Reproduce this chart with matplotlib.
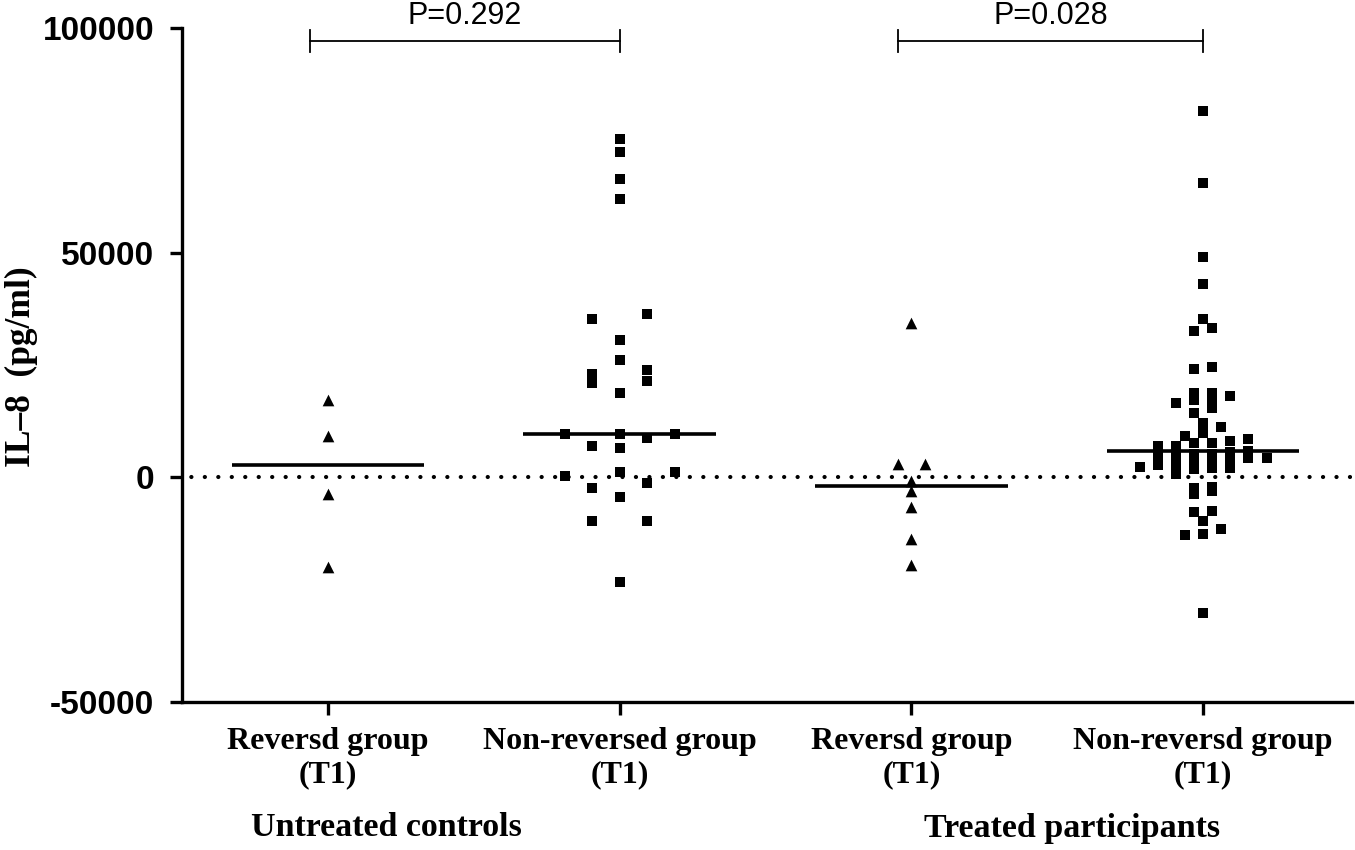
import numpy as np
import matplotlib
matplotlib.use("Agg")
import matplotlib.pyplot as plt
from matplotlib.transforms import blended_transform_factory, ScaledTranslation

# ---------------- data (IL-8, pg/ml) ----------------
group_labels = ["Reversd group\n(T1)", "Non-reversed group\n(T1)",
                "Reversd group\n(T1)", "Non-reversd group\n(T1)"]
category_labels = ["Untreated controls", "Treated participants"]
p_labels = ["P=0.292", "P=0.028"]

reversed_ctrl = [17200, 9300, -3800, -20000]
nonrev_ctrl = [75200, 72400, 66300, 62000, 36300, 35300, 30500, 26200, 23900,
               23100, 21400, 20900, 18800, 9700, 9700, 9700, 8800, 7000, 6600,
               1200, 1200, 300, -1200, -2300, -4300, -9700, -9700, -23400]
reversed_trt = [34300, 3000, 3000, -800, -3000, -6700, -13800, -19400]
nonrev_trt = [81500, 65400, 49100, 43100, 35300, 33200, 32600, 24600, 24000,
              18800, 18700, 18100, 17500, 17200, 16500, 15500, 14400, 12200,
              11200, 9900, 9300, 8600, 8000, 7600, 7600, 7000, 7000, 5900,
              5600, 5300, 5100, 4700, 4600, 4400, 4200, 4000, 3400, 3100,
              2900, 2700, 2400, 2100, 2100, 1800, 800, -2100, -2300, -3000,
              -3800, -7500, -7700, -9700, -11600, -12600, -12900, -30100]

groups = [reversed_ctrl, nonrev_ctrl, reversed_trt, nonrev_trt]
markers = ["^", "s", "^", "s"]

# ---------------- style / layout ----------------
positions = [1, 2, 3, 4]
spread_step = [0.093, 0.189, 0.093, 0.062]   # horizontal step between neighbours
bin_height = 2300
median_half = 0.33
marker_size = {"^": 8.4, "s": 7.7}
serif = ["Liberation Serif", "DejaVu Serif"]
sans = ["Liberation Sans", "DejaVu Sans"]


def column_scatter(vals, center, step, binh):
    vals = np.asarray(vals, dtype=float)
    bins = np.floor(vals / binh).astype(int)
    xs = np.empty(len(vals))
    for b in np.unique(bins):
        idx = np.where(bins == b)[0]
        idx = idx[np.argsort(vals[idx])]
        n = len(idx)
        xs[idx] = center + (np.arange(n) - (n - 1) / 2) * step
    return xs


plt.rcParams["lines.scale_dashes"] = False
fig = plt.figure(figsize=(13.55, 8.5), dpi=100)
ax = fig.add_axes([182 / 1355, 1 - 702 / 850, (1352 - 182) / 1355, (702 - 28) / 850])

for pos, vals, mk, step in zip(positions, groups, markers, spread_step):
    xs = column_scatter(vals, pos, step, bin_height)
    ax.scatter(xs, vals, marker=mk, s=marker_size[mk] ** 2, c="black",
               linewidths=0, zorder=3, clip_on=False)
    med = np.median(vals)
    ax.hlines(med, pos - median_half, pos + median_half, colors="black",
              linewidth=2.6, zorder=4)

# zero dotted line
ax.axhline(0, color="black", linewidth=3.0, linestyle=(3, (0.1, 9.6)),
           dash_capstyle="round", zorder=2)

ax.set_xlim(0.5, 4.51)
ax.set_ylim(-50000, 100000)
ax.set_yticks([-50000, 0, 50000, 100000])
ax.set_yticklabels(["-50000", "0", "50000", "100000"])
ax.set_xticks(positions)
ax.set_xticklabels(group_labels, fontfamily=serif, fontweight="bold",
                   fontsize=23, linespacing=1.18)
for lab in ax.get_xticklabels():
    lab.set_transform(lab.get_transform() + ScaledTranslation(0.10, 0, fig.dpi_scale_trans))
for lab in ax.get_yticklabels():
    lab.set_fontfamily(sans)
    lab.set_fontweight("bold")
    lab.set_fontsize(24)

for s in ["top", "right"]:
    ax.spines[s].set_visible(False)
for s in ["left", "bottom"]:
    ax.spines[s].set_linewidth(2.4)
ax.tick_params(axis="y", length=9, width=2.4, pad=11)
ax.tick_params(axis="x", length=9, width=2.4, pad=9)

# y-axis title
fig.text(21 / 1355, 1 - 367 / 850, "IL\u20138  (pg/ml)", rotation=90,
         ha="center", va="center", fontfamily=serif, fontweight="bold",
         fontsize=25.5)

# category labels
tr = blended_transform_factory(ax.transData, fig.transFigure)
for cx, txt in zip([1.20, 3.55], category_labels):
    ax.text(cx, 1 - 828 / 850, txt, transform=tr, ha="center", va="center",
            fontfamily=serif, fontweight="bold", fontsize=24.5)

# significance brackets
brackets = [(0.938, 2.0), (2.954, 4.0)]
for (x0, x1), ptxt in zip(brackets, p_labels):
    ax.plot([x0, x1], [97000, 97000], color="black", lw=1.3, clip_on=False)
    for xx in (x0, x1):
        ax.plot([xx, xx], [94600, 99600], color="black", lw=1.3, clip_on=False)
    ax.text((x0 + x1) / 2, 1 - 16 / 850, ptxt, transform=tr, ha="center",
            va="center", fontfamily=sans, fontsize=22)

fig.savefig("out.png", dpi=100)
